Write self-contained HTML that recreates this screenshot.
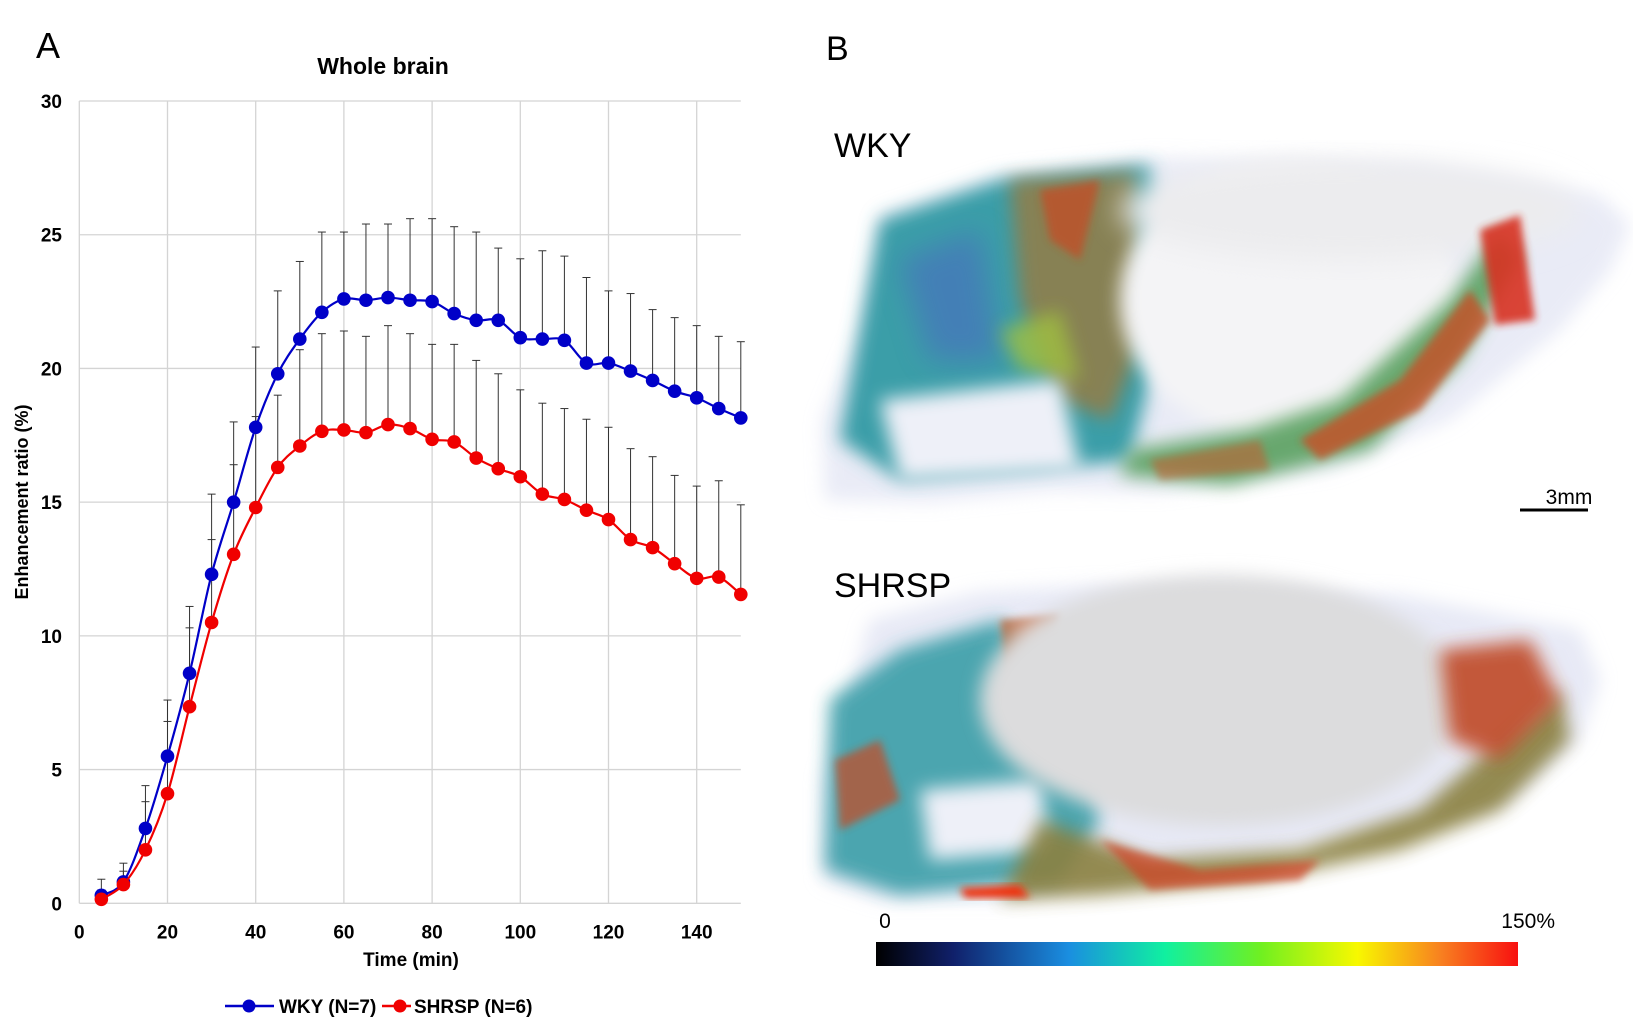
<!DOCTYPE html>
<html><head><meta charset="utf-8"><style>
html,body{margin:0;padding:0;background:#fff;}
svg{display:block;font-family:"Liberation Sans",Arial,sans-serif;}
</style></head><body>
<svg id="fig" width="1633" height="1021" viewBox="0 0 1633 1021">
<defs>
<filter id="b6" x="-20%" y="-20%" width="140%" height="140%"><feGaussianBlur stdDeviation="9"/></filter>
<filter id="b3" x="-20%" y="-20%" width="140%" height="140%"><feGaussianBlur stdDeviation="4"/></filter>
<filter id="b12" x="-20%" y="-20%" width="140%" height="140%"><feGaussianBlur stdDeviation="14"/></filter>
<linearGradient id="cbar" x1="0" x2="1" y1="0" y2="0">
<stop offset="0" stop-color="#000000"/><stop offset="0.12" stop-color="#10206a"/><stop offset="0.3" stop-color="#1a8ee0"/><stop offset="0.45" stop-color="#10f0a0"/><stop offset="0.6" stop-color="#70f020"/><stop offset="0.75" stop-color="#f8f800"/><stop offset="0.88" stop-color="#f88020"/><stop offset="1" stop-color="#f81010"/>
</linearGradient>
</defs>
<text x="36" y="58" font-size="36">A</text>
<text x="383" y="74" font-size="23" font-weight="bold" text-anchor="middle">Whole brain</text>
<g id="grid"></g>
<g id="axes"></g>
<g id="series"></g>
<text transform="translate(28,502) rotate(-90)" font-size="18" font-weight="bold" text-anchor="middle">Enhancement ratio (%)</text>
<text x="411" y="966" font-size="19" font-weight="bold" text-anchor="middle">Time (min)</text>
<g>
<g>
<line x1="225" y1="1006" x2="274" y2="1006" stroke="#0000c8" stroke-width="2.5"/><circle cx="249" cy="1006" r="6.5" fill="#0000c8"/>
<text x="279" y="1013" font-size="19" font-weight="bold">WKY (N=7)</text></g>
<g>
<line x1="382" y1="1006" x2="411" y2="1006" stroke="#f00000" stroke-width="2.5"/><circle cx="400" cy="1006" r="6.5" fill="#f00000"/>
<text x="414" y="1013" font-size="19" font-weight="bold">SHRSP (N=6)</text></g>
</g>

<text x="826" y="60" font-size="34">B</text>
<text x="834" y="157" font-size="34">WKY</text>
<text x="834" y="597" font-size="34">SHRSP</text>

<g>
<path d="M880,215 L1000,175 L1150,158 L1420,165 L1600,195 L1630,225 L1610,270 L1560,330 L1450,420 L1330,470 L1160,492 L1050,490 L930,502 L825,500 L822,420 L860,330 Z" fill="#d4d8ee" opacity="0.5" filter="url(#b6)"/>
<path d="M880,220 L1000,180 L1150,165 L1170,300 L1130,460 L1040,470 L900,480 L840,440 L860,330 Z" fill="#3a9ea8" filter="url(#b6)"/>
<path d="M900,260 L980,230 L1000,360 L930,360 Z" fill="#4a6cc0" opacity="0.6" filter="url(#b12)"/>
<path d="M1010,180 L1135,172 L1150,320 L1110,420 L1060,400 L1020,300 Z" fill="#9a7a40" opacity="0.8" filter="url(#b6)"/>
<path d="M1040,190 L1100,180 L1080,260 L1050,240 Z" fill="#c84a20" opacity="0.7" filter="url(#b3)"/>
<path d="M1000,330 L1060,310 L1080,380 L1020,370 Z" fill="#a0c040" opacity="0.8" filter="url(#b6)"/>
<path d="M880,400 L1060,380 L1080,470 L900,480 Z" fill="#eef0f8" filter="url(#b6)"/>
<ellipse cx="1290" cy="300" rx="170" ry="140" fill="#f4f4f6" filter="url(#b6)"/>
<ellipse cx="1350" cy="210" rx="230" ry="50" fill="#ececee" filter="url(#b12)"/>
<path d="M1130,450 L1250,430 L1340,400 L1450,300 L1500,230 L1520,260 L1460,360 L1370,450 L1230,485 L1120,475 Z" fill="#5aa060" opacity="0.9" filter="url(#b6)"/>
<path d="M1300,440 L1400,380 L1470,290 L1490,320 L1420,410 L1320,460 Z" fill="#c85028" opacity="0.8" filter="url(#b3)"/>
<path d="M1480,230 L1520,215 L1535,320 L1495,325 Z" fill="#d83020" opacity="0.9" filter="url(#b3)"/>
<path d="M1150,460 L1260,440 L1270,470 L1160,480 Z" fill="#c06030" opacity="0.6" filter="url(#b3)"/>
</g>
<g>
<line x1="1520" y1="510" x2="1588" y2="510" stroke="#000" stroke-width="3"/>
<text x="1569" y="504" font-size="21" text-anchor="middle">3mm</text>
</g>

<g>
<path d="M870,620 L980,592 L1100,585 L1400,595 L1580,630 L1600,680 L1580,740 L1510,800 L1400,830 L1250,860 L1100,880 L1000,900 L880,900 L822,880 L822,780 L850,690 Z" fill="#d4d8ee" opacity="0.55" filter="url(#b6)"/>
<path d="M830,700 L900,650 L1000,620 L1080,700 L1100,820 L1060,880 L900,895 L825,870 Z" fill="#3a9ea8" opacity="0.9" filter="url(#b6)"/>
<path d="M920,790 L1040,780 L1050,850 L930,860 Z" fill="#eef0f8" filter="url(#b6)"/>
<path d="M1000,620 L1060,615 L1040,720 L1010,700 Z" fill="#c05a28" opacity="0.7" filter="url(#b3)"/>
<path d="M835,760 L880,740 L900,800 L840,830 Z" fill="#c84a20" opacity="0.7" filter="url(#b3)"/>
<ellipse cx="1220" cy="700" rx="240" ry="125" fill="#dcdcdd" filter="url(#b6)"/>
<path d="M1040,820 L1150,860 L1300,850 L1420,810 L1500,740 L1560,690 L1570,740 L1500,810 L1400,850 L1260,880 L1100,895 L1000,900 Z" fill="#8a8040" opacity="0.9" filter="url(#b6)"/>
<path d="M1100,840 L1200,870 L1320,860 L1300,880 L1150,890 Z" fill="#d04020" opacity="0.7" filter="url(#b3)"/>
<path d="M1440,650 L1530,640 L1560,700 L1500,760 L1450,740 Z" fill="#c04a28" opacity="0.9" filter="url(#b6)"/>
<path d="M960,888 L1020,885 L1030,898 L965,898 Z" fill="#f03010" filter="url(#b3)"/>
</g>

<g>
<rect x="876" y="942" width="642" height="24" fill="url(#cbar)"/>
<text x="885" y="928" font-size="21" text-anchor="middle">0</text>
<text x="1555" y="928" font-size="21" text-anchor="end">150%</text>
</g>
</svg>
<script>
const times=[5,10,15,20,25,30,35,40,45,50,55,60,65,70,75,80,85,90,95,100,105,110,115,120,125,130,135,140,145,150];
const wkyMean=[0.3,0.8,2.8,5.5,8.6,12.3,15.0,17.8,19.8,21.1,22.1,22.6,22.55,22.65,22.55,22.5,22.05,21.8,21.8,21.15,21.1,21.05,20.2,20.2,19.9,19.55,19.15,18.9,18.5,18.15];
const wkyUpper=[0.9,1.5,4.4,7.6,11.1,15.3,18.0,20.8,22.9,24.0,25.1,25.1,25.4,25.4,25.6,25.6,25.3,25.1,24.5,24.1,24.4,24.2,23.4,22.9,22.8,22.2,21.9,21.6,21.2,21.0];
const shrspMean=[0.15,0.7,2.0,4.1,7.35,10.5,13.05,14.8,16.3,17.1,17.65,17.7,17.6,17.9,17.75,17.35,17.25,16.65,16.25,15.95,15.3,15.1,14.7,14.35,13.6,13.3,12.7,12.15,12.2,11.55];
const shrspUpper=[0.5,1.2,3.8,6.8,10.3,13.6,16.4,18.2,19.0,20.7,21.3,21.4,21.2,21.6,21.3,20.9,20.9,20.3,19.8,19.2,18.7,18.5,18.1,17.8,17.0,16.7,16.0,15.6,15.8,14.9];
const xTicks=[0,20,40,60,80,100,120,140];
const yTicks=[0,5,10,15,20,25,30];

const NS='http://www.w3.org/2000/svg';
const X0=79.3,X1=740.8,Y0=903.3,Y1=101;
const xs=v=>X0+(v-0)/(150-0)*(X1-X0);
const ys=v=>Y0-(v/30)*(Y0-Y1);
function mk(tag,attrs,parent){const e=document.createElementNS(NS,tag);for(const k in attrs)e.setAttribute(k,attrs[k]);parent.appendChild(e);return e;}
const grid=document.getElementById('grid'),axes=document.getElementById('axes'),ser=document.getElementById('series');
yTicks.forEach(t=>{
  const l=mk('line',{x1:X0,x2:X1,y1:ys(t),y2:ys(t),stroke:'#d4d4d4','stroke-width':1.3},grid);
  
  
  const tx=mk('text',{x:62,y:ys(t)+7,'font-size':19,'font-weight':'bold','text-anchor':'end'},axes);
  tx.textContent=t;
  
  
});
xTicks.forEach(t=>{
  const l=mk('line',{x1:xs(t),x2:xs(t),y1:Y1,y2:Y0,stroke:'#d4d4d4','stroke-width':1.3},grid);
  
  
  const tx=mk('text',{x:xs(t),y:Y0+35,'font-size':19,'font-weight':'bold','text-anchor':'middle'},axes);
  tx.textContent=t;
  
  
});
function smooth(pts){let d='M'+pts[0][0]+','+pts[0][1];
  for(let i=0;i<pts.length-1;i++){const p0=pts[i-1]||pts[i],p1=pts[i],p2=pts[i+1],p3=pts[i+2]||p2;
    const c1=[p1[0]+(p2[0]-p0[0])/6,p1[1]+(p2[1]-p0[1])/6],c2=[p2[0]-(p3[0]-p1[0])/6,p2[1]-(p3[1]-p1[1])/6];
    d+=' C'+c1[0]+','+c1[1]+' '+c2[0]+','+c2[1]+' '+p2[0]+','+p2[1];}
  return d;}
function drawErr(mean,upper,name){
  times.forEach((t,i)=>{
    const g=mk('g',{},ser);
    
    
    mk('line',{x1:xs(t),x2:xs(t),y1:ys(mean[i]),y2:ys(upper[i]),stroke:'#333','stroke-width':1},g);
    mk('line',{x1:xs(t)-4,x2:xs(t)+4,y1:ys(upper[i]),y2:ys(upper[i]),stroke:'#333','stroke-width':1},g);
  });
}
function drawSeries(mean,color,name){
  const p=mk('path',{d:smooth(times.map((t,i)=>[xs(t),ys(mean[i])])),fill:'none',stroke:color,'stroke-width':2.2},ser);
  
  
  times.forEach((t,i)=>{
    const c=mk('circle',{cx:xs(t),cy:ys(mean[i]),r:6.8,fill:color},ser);
    
    
  });
}
drawErr(wkyMean,wkyUpper,'wky');
drawErr(shrspMean,shrspUpper,'shrsp');
drawSeries(wkyMean,'#0000c8','wky');
drawSeries(shrspMean,'#f00000','shrsp');
</script>
</body></html>
